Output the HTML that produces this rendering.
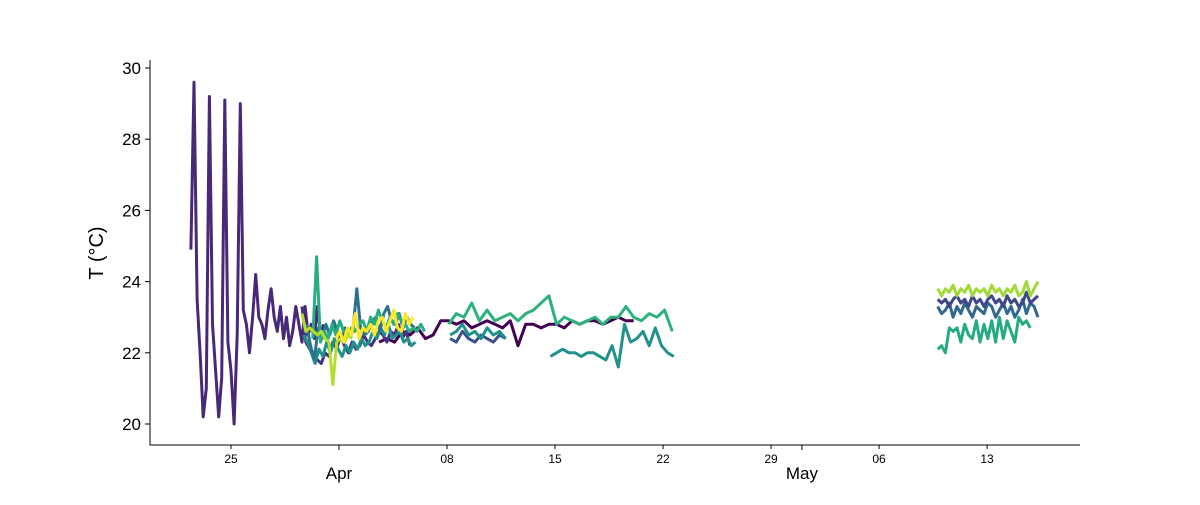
<!DOCTYPE html>
<html><head><meta charset="utf-8"><style>
body{margin:0;background:#fff}
svg text{font-family:"Liberation Sans","DejaVu Sans",sans-serif;fill:#000}
</style></head><body>
<svg id="chart" width="1200" height="500" viewBox="0 0 1200 500" xmlns="http://www.w3.org/2000/svg">
<g id="series" fill="none" stroke-width="3" stroke-linejoin="round"></g>
<g id="axes"></g>
</svg>
<script>
// day offsets relative to Mar 25
const yTicks=[20,22,24,26,28,30];
const minorDays=[0,14,21,28,35,42,49];
const minorLabels=["25","08","15","22","29","06","13"];
const majorDays=[7,37];
const majorLabels=["Apr","May"];

const sPurpleStart=-2.6, sPurpleStep=0.2;
const sPurple=[24.9,29.6,23.5,22.0,20.2,21.0,29.2,22.8,21.5,20.2,21.3,29.1,22.3,21.5,20.0,22.5,29.0,23.2,22.8,22.0,23.0,24.2,23.0,22.8,22.4,23.2,23.8,23.0,22.6,23.3,22.4,23.0,22.2,22.6,23.3,22.8,22.3,23.3,22.5,22.8,22.4,23.3,22.5,22.8];

const sIndigoStart=4.6, sIndigoStep=0.25;
const sIndigo=[23.3,22.3,22.1,22.0,21.8,21.7,22.0,21.9,22.3,22.1,22.5,22.2,22.0,22.3,22.1,22.2,22.5,22.3,22.2,22.4,22.6,22.5,22.3,22.6,22.5,22.8,22.4,22.6,22.2];

const sDarkStart=9.6, sDarkStep=0.5;
const sDark=[22.3,22.4,22.3,22.6,22.5,22.7,22.4,22.5,22.9,22.9,22.8,22.9,22.7,22.8,22.9,22.8,22.7,22.9,22.2,22.8,22.8,22.7,22.8,22.8,22.7,22.9,22.8,22.9,22.9,22.8,22.9,23.0,22.9,22.9];

const sGreenTopStart=14.1, sGreenTopStep=0.5;
const sGreenTop=[22.8,23.1,23.0,23.4,22.9,23.2,22.9,23.0,23.1,22.9,23.1,23.2,23.4,23.6,22.8,23.0,22.9,22.8,22.9,23.0,22.8,23.0,23.0,23.3,23.0,22.9,23.1,23.0,23.2,22.6];

const sTealAStart=4.7, sTealAStep=0.25;
const sTealA=[22.5,22.3,22.0,21.7,22.1,21.9,22.3,22.0,22.4,22.1,21.9,22.2,22.0,22.3,22.1,22.4,22.2,22.3,22.6,22.4,22.7,22.5,22.8,22.4,22.5,22.6,22.3,22.4,22.2,22.3];
const sTealBStart=14.2, sTealBStep=0.4;
const sTealB=[22.5,22.6,22.8,22.5,22.6,22.4,22.7,22.5,22.6,22.4];
const sTealCStart=20.7, sTealCStep=0.4;
const sTealC=[21.9,22.0,22.1,22.0,22.0,21.9,22.0,22.0,21.9,21.8,22.2,21.6,22.8,22.3,22.4,22.6,22.2,22.7,22.2,22.0,21.9];

const sBlueStart=4.9, sBlueStep=0.25;
const sBlue=[22.8,22.2,21.8,22.7,22.4,22.8,22.5,22.9,22.6,22.4,22.7,22.5,22.6,23.8,22.7,22.5,22.6,22.9,23.0,22.6,23.1,23.3,22.9,22.8,23.1,22.7,23.0,22.8,22.7];

const sBluePurpleStart=14.2, sBluePurpleStep=0.4;
const sBluePurple=[22.4,22.3,22.6,22.4,22.3,22.5,22.4,22.3,22.5,22.4];

const sLimeStart=4.6, sLimeStep=0.25;
const sLime=[23.1,22.6,22.7,22.6,22.5,22.6,22.4,22.3,21.1,22.3,22.4,22.3,22.5,22.4];

const sYellowStart=6.8, sYellowStep=0.25;
const sYellow=[22.4,22.6,22.3,22.7,22.5,23.1,22.4,22.7,22.6,22.8,22.5,22.9,23.0,22.6,22.9,23.2,22.7,22.6,23.1,22.8,23.0];

const sGreenStart=5.3, sGreenStep=0.25;
const sGreen=[22.4,24.7,22.3,22.6,22.4,22.8,22.5,22.9,22.6,22.5,22.7,22.6,22.8,22.9,22.6,23.0,22.8,23.2,22.9,22.7,23.0,22.8,23.1,22.9,22.8,22.6,22.7,22.6,22.8,22.6];

const mayStart=45.8, mayStep=0.25;
const mayLime=[23.8,23.6,23.8,23.7,23.9,23.6,23.8,23.7,23.9,23.6,23.8,23.7,23.8,23.6,23.9,23.7,23.8,23.6,23.8,23.7,23.9,23.6,23.7,24.0,23.6,23.8,24.0];
const mayNavy=[23.5,23.4,23.5,23.3,23.5,23.6,23.4,23.5,23.3,23.6,23.4,23.5,23.3,23.5,23.6,23.4,23.5,23.3,23.6,23.4,23.5,23.3,23.4,23.7,23.4,23.5,23.6];
const mayBlue=[23.3,23.1,23.2,23.4,23.0,23.3,23.1,23.4,23.2,23.0,23.3,23.2,23.1,23.4,23.3,23.0,23.2,23.4,23.1,23.3,23.0,23.2,23.5,23.1,23.4,23.3,23.0];
const mayGreen=[22.1,22.2,22.0,22.7,22.6,22.7,22.3,22.8,22.5,22.4,22.9,22.3,22.8,22.4,22.9,22.3,23.0,22.4,22.9,22.6,22.3,23.0,22.8,22.9,22.7];

const X=d=>231+d*15.43;
const Y=t=>424-(t-20)*35.6;
const NS="http://www.w3.org/2000/svg";
const g=document.getElementById('series');
const ax=document.getElementById('axes');

function line(name,vals,start,step,color){
  const p=document.createElementNS(NS,'polyline');
  p.setAttribute('points',vals.map((v,i)=>X(start+i*step).toFixed(1)+','+Y(v).toFixed(1)).join(' '));
  p.setAttribute('stroke',color);
  
  
  g.appendChild(p);
}
line('series-purple',sPurple,sPurpleStart,sPurpleStep,'#482878');
line('series-dark',sDark,sDarkStart,sDarkStep,'#440154');
line('series-indigo',sIndigo,sIndigoStart,sIndigoStep,'#46327e');
line('series-blue-purple',sBluePurple,sBluePurpleStart,sBluePurpleStep,'#3b528b');
line('series-green-top',sGreenTop,sGreenTopStart,sGreenTopStep,'#2db27d');
line('series-teal-a',sTealA,sTealAStart,sTealAStep,'#21918c');
line('series-teal-b',sTealB,sTealBStart,sTealBStep,'#21918c');
line('series-teal-c',sTealC,sTealCStart,sTealCStep,'#21918c');
line('series-blue',sBlue,sBlueStart,sBlueStep,'#2c728e');
line('series-green',sGreen,sGreenStart,sGreenStep,'#27ad81');
line('series-lime',sLime,sLimeStart,sLimeStep,'#b5de2b');
line('series-yellow',sYellow,sYellowStart,sYellowStep,'#fde725');
line('series-may-green',mayGreen,mayStart,mayStep,'#25ab82');
line('series-may-blue',mayBlue,mayStart,mayStep,'#31688e');
line('series-may-navy',mayNavy,mayStart,mayStep,'#3e4989');
line('series-may-lime',mayLime,mayStart,mayStep,'#a0da39');

function el(tag,attrs,text){
  const e=document.createElementNS(NS,tag);
  for(const k in attrs)e.setAttribute(k,attrs[k]);
  if(text!==undefined)e.textContent=text;
  ax.appendChild(e);return e;
}
let e;
e=el('line',{x1:150,y1:60,x2:150,y2:445.5,stroke:'#000','stroke-width':1});


e=el('line',{x1:149.5,y1:445,x2:1080,y2:445,stroke:'#000','stroke-width':1});


yTicks.forEach(t=>{
  e=el('line',{x1:145,y1:Y(t),x2:150,y2:Y(t),stroke:'#000'});
  
  
  e=el('text',{x:141,y:Y(t)+6,'text-anchor':'end','font-size':17},String(t));
  
  
});
minorDays.forEach((d,i)=>{
  e=el('line',{x1:X(d),y1:445,x2:X(d),y2:449,stroke:'#000'});
  
  
  e=el('text',{x:X(d),y:463,'text-anchor':'middle','font-size':12},minorLabels[i]);
  
  
});
majorDays.forEach((d,i)=>{
  e=el('line',{x1:X(d),y1:445,x2:X(d),y2:450,stroke:'#000'});
  
  
  e=el('text',{x:X(d),y:479,'text-anchor':'middle','font-size':17},majorLabels[i]);
  
  
});
e=el('text',{x:0,y:0,'text-anchor':'middle','font-size':20,transform:'translate(103,253) rotate(-90)'},'T (°C)');


</script>
</body></html>
